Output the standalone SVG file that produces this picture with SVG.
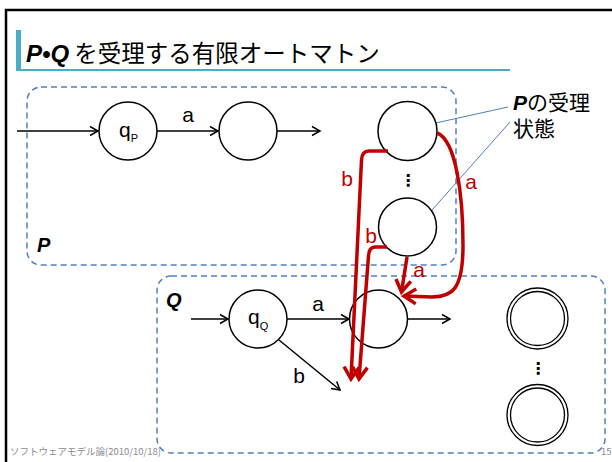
<svg xmlns="http://www.w3.org/2000/svg" width="612" height="462" viewBox="0 0 612 462">
<style>
.st{fill:#fff;stroke:#000;stroke-width:1.5}
.acc{fill:none;stroke:#000;stroke-width:1.3}
.ed{fill:none;stroke:#000;stroke-width:1.5}
.red{fill:none;stroke:#C00000;stroke-width:3.5;stroke-linejoin:round}
.box{fill:none;stroke:#4F81BD;stroke-width:1.5;stroke-dasharray:6 4}
.lead{stroke:#4F81BD;stroke-width:1}
.lbl{font-family:"Liberation Sans","Noto Sans",sans-serif;font-size:21px;fill:#000}
.rl{font-family:"Liberation Sans","Noto Sans",sans-serif;font-size:21px;fill:#C00000;text-anchor:middle}
.bi{font-family:"Liberation Sans",sans-serif;font-weight:bold;font-style:italic}
.jp{font-family:"Noto Sans CJK JP",sans-serif}
.ft{font-family:"Noto Sans CJK JP",sans-serif;font-size:9.5px;fill:#8C8C8C}
</style>
<defs>
<marker id="ah" markerUnits="userSpaceOnUse" viewBox="-10 -6 12 12" refX="0" refY="0" markerWidth="12" markerHeight="12" orient="auto" overflow="visible">
<path d="M-8,-4.5 L0,0 L-8,4.5" fill="none" stroke="#000" stroke-width="1.5"/>
</marker>
<marker id="rah" markerUnits="userSpaceOnUse" viewBox="-14 -10 16 20" refX="0" refY="0" markerWidth="16" markerHeight="20" orient="auto" overflow="visible">
<path d="M-12,-7.5 L0,0 L-12,7.5" fill="none" stroke="#C00000" stroke-width="3.5" stroke-linejoin="miter"/>
</marker>
</defs>
<rect width="612" height="462" fill="#fff"/>
<!-- frame -->
<path d="M6,462 L6,10 L612,10" fill="none" stroke="#000" stroke-width="2.5"/>
<!-- title -->
<rect x="16" y="30" width="5" height="40" fill="#4BACC6"/>
<rect x="16" y="69" width="494" height="2" fill="#4BACC6"/>
<text x="26" y="62" font-size="24" fill="#000"><tspan class="bi">P•Q</tspan><tspan class="jp" font-size="23.5"> を受理する有限オートマトン</tspan></text>
<!-- boxes -->
<g id="boxP">
<rect class="box" x="27" y="87" width="429" height="178" rx="14"/>
<text class="bi" x="37" y="252" font-size="20">P</text>
</g>
<g id="boxQ">
<rect class="box" x="157" y="276" width="448" height="177" rx="14"/>
<text class="bi" x="166" y="307" font-size="20">Q</text>
</g>
<!-- connectors -->
<g id="edges">
<line class="ed" x1="17" y1="131" x2="98" y2="131" marker-end="url(#ah)"/>
<line class="ed" x1="157" y1="131" x2="218" y2="131" marker-end="url(#ah)"/>
<text class="lbl" x="188" y="122" text-anchor="middle">a</text>
<line class="ed" x1="277" y1="131" x2="320" y2="131" marker-end="url(#ah)"/>
<line class="ed" x1="191" y1="319" x2="228" y2="319" marker-end="url(#ah)"/>
<line class="ed" x1="287" y1="319" x2="349" y2="319" marker-end="url(#ah)"/>
<text class="lbl" x="318" y="311" text-anchor="middle">a</text>
<line class="ed" x1="408" y1="319" x2="450" y2="319" marker-end="url(#ah)"/>
<line class="ed" x1="279" y1="340" x2="340" y2="390" marker-end="url(#ah)"/>
<text class="lbl" x="299" y="383" text-anchor="middle">b</text>
<line class="lead" x1="422" y1="126" x2="508" y2="107"/>
<line class="lead" x1="417" y1="227" x2="510" y2="122"/>
</g>
<!-- nodes -->
<g id="qP"><circle class="st" cx="128" cy="131" r="29"/><text class="lbl" x="119" y="137" font-size="17">q<tspan font-size="11" dy="5">P</tspan></text></g>
<g id="p2"><circle class="st" cx="248" cy="131" r="29"/></g>
<g id="pAcc1"><circle class="st" cx="407.5" cy="131" r="29.5"/></g>
<g id="pAcc2"><circle class="st" cx="407.5" cy="227" r="29"/></g>
<text x="408" y="186" font-family="DejaVu Sans,sans-serif" font-size="16" font-weight="bold" text-anchor="middle" fill="#000">⋮</text>
<g id="qQ"><circle class="st" cx="258" cy="319" r="29"/><text class="lbl" x="248" y="324" font-size="18">q<tspan font-size="11" dy="6">Q</tspan></text></g>
<g id="q2"><circle class="st" cx="378.5" cy="319" r="29"/></g>
<g id="qAcc1"><circle class="acc" cx="537.5" cy="318.5" r="30.5"/><circle class="acc" cx="537.5" cy="318.5" r="27"/></g>
<g id="qAcc2"><circle class="acc" cx="537.5" cy="415" r="30.5"/><circle class="acc" cx="537.5" cy="415" r="27"/></g>
<text x="538" y="374" font-family="DejaVu Sans,sans-serif" font-size="16" font-weight="bold" text-anchor="middle" fill="#000">⋮</text>
<!-- annotation -->
<g id="note">
<text x="513" y="110" font-size="21" fill="#000"><tspan class="bi">P</tspan><tspan class="jp">の受理</tspan><tspan class="jp" x="513" dy="26">状態</tspan></text>
</g>
<!-- red connectors -->
<g id="redEdges">
<path class="red" d="M388,151 L369,151 Q362,151 361.5,160 L351,379" marker-end="url(#rah)"/>
<path class="red" d="M387,247 L375,247 Q369,247 368.5,256 L359,379" marker-end="url(#rah)"/>
<path class="red" d="M407,257 L401.5,292" marker-end="url(#rah)"/>
<path class="red" d="M437,133 C456,140 463,195 463,245 C463,290 452,297 432,297 L404,296" marker-end="url(#rah)"/>
<text class="rl" x="347" y="186">b</text>
<text class="rl" x="371" y="243">b</text>
<text class="rl" x="471" y="189">a</text>
<text class="rl" x="419" y="277">a</text>
</g>
<!-- footer -->
<text class="ft" x="10" y="455">ソフトウェアモデル論(2010/10/18)</text>
<text class="ft" x="601" y="455" font-family="Liberation Sans,sans-serif">15</text>
</svg>
